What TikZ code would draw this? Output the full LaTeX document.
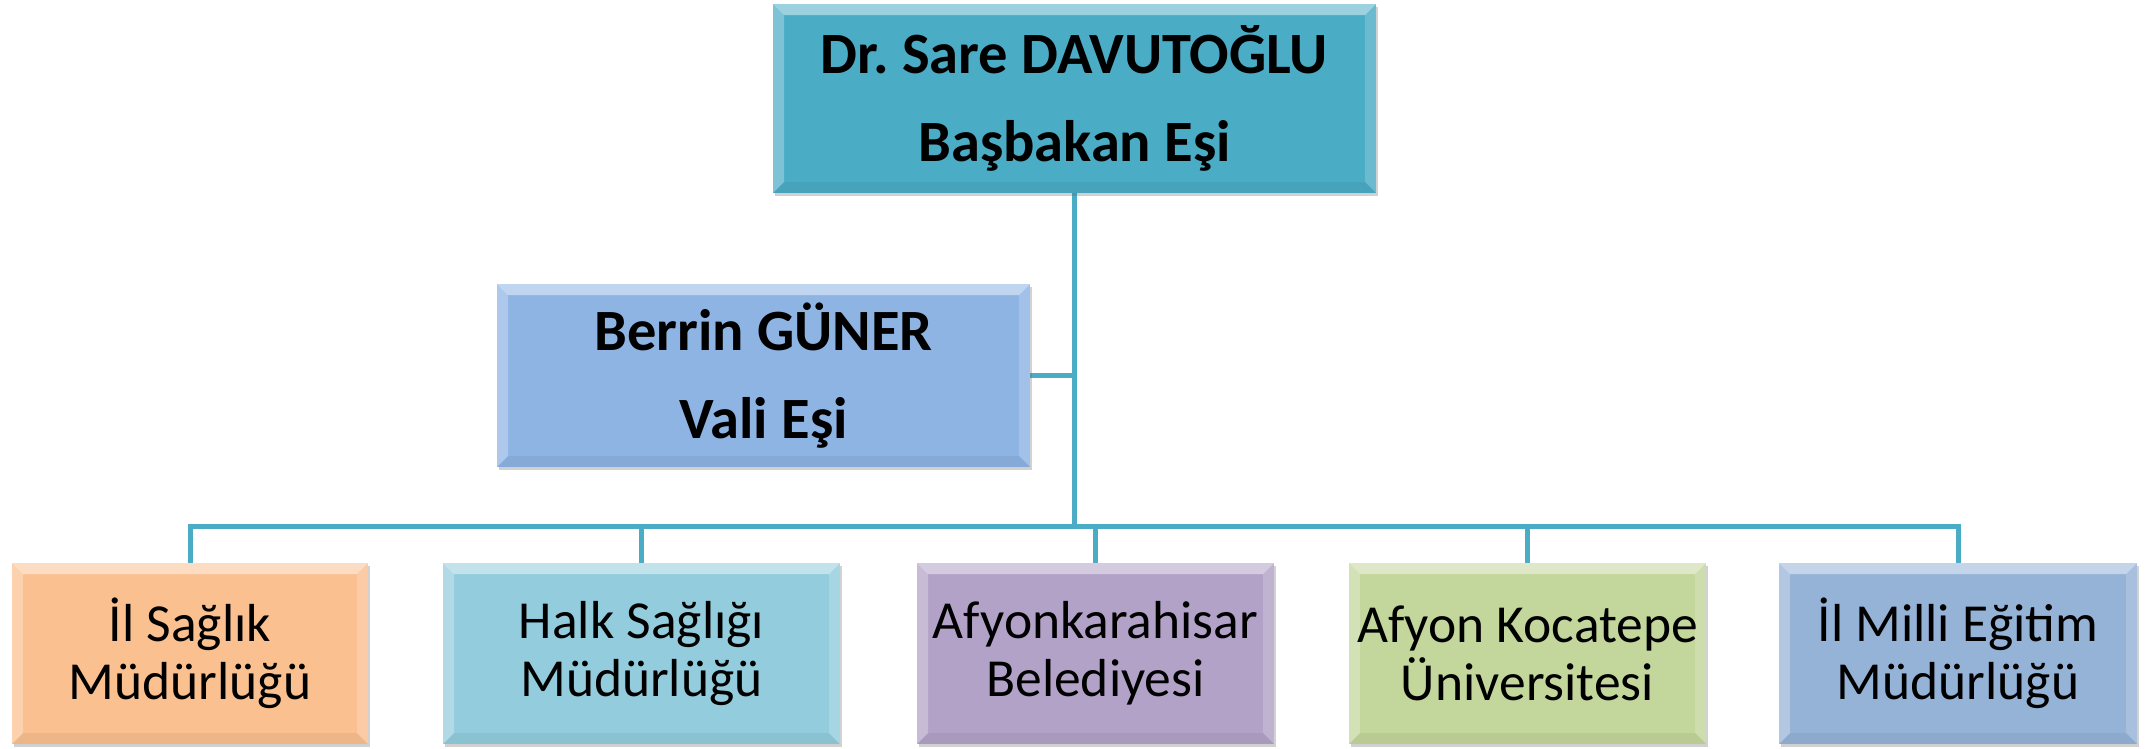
\documentclass[tikz,border=0pt]{standalone}
\usepackage{fontspec}
\setmainfont{Carlito}
\frenchspacing
\usetikzlibrary{shadows,backgrounds}
\definecolor{linec}{HTML}{4BACC6}
\definecolor{ctop}{HTML}{4BACC6}
\definecolor{cber}{HTML}{8EB4E3}
\definecolor{cone}{HTML}{FAC090}
\definecolor{ctwo}{HTML}{93CDDD}
\definecolor{cthree}{HTML}{B3A2C7}
\definecolor{cfour}{HTML}{C3D69B}
\definecolor{cfive}{HTML}{95B3D7}
\tikzset{
  bevelbox/.style={draw=none, fill=#1, inner sep=0pt, align=center,
    drop shadow={shadow xshift=2pt, shadow yshift=-3pt, opacity=0.3, fill=black!60},
    path picture={
      \fill[white, opacity=0.45] (path picture bounding box.north west) -- (path picture bounding box.north east)
        -- ([shift={(-11pt,-11pt)}]path picture bounding box.north east) -- ([shift={(11pt,-11pt)}]path picture bounding box.north west) -- cycle;
      \fill[white, opacity=0.28] (path picture bounding box.north west) -- ([shift={(11pt,-11pt)}]path picture bounding box.north west)
        -- ([shift={(11pt,11pt)}]path picture bounding box.south west) -- (path picture bounding box.south west) -- cycle;
      \fill[white, opacity=0.18] (path picture bounding box.north east) -- ([shift={(-11pt,-11pt)}]path picture bounding box.north east)
        -- ([shift={(-11pt,11pt)}]path picture bounding box.south east) -- (path picture bounding box.south east) -- cycle;
      \fill[black, opacity=0.05] (path picture bounding box.south west) -- ([shift={(11pt,11pt)}]path picture bounding box.south west)
        -- ([shift={(-11pt,11pt)}]path picture bounding box.south east) -- (path picture bounding box.south east) -- cycle;
    }},
  bigtext/.style={font=\fontsize{58.5}{88}\selectfont\bfseries},
  smalltext/.style={font=\fontsize{53.5}{58}\selectfont},
  conn/.style={draw=linec, line width=5pt}
}
\begin{document}
\begin{tikzpicture}[x=1pt,y=-1pt]
\useasboundingbox (0,0) rectangle (2152,748);
\node[bevelbox=ctop, bigtext, minimum width=603pt, minimum height=189pt] (top) at (1074.5,98.5) {Dr. Sare DAVUTOĞLU\\Başbakan Eşi};
\node[bevelbox=cber, bigtext, minimum width=533pt, minimum height=183pt] (ber) at (763.5,375.5) {Berrin GÜNER\\Vali Eşi};
\node[bevelbox=cone, smalltext, minimum width=356pt, minimum height=181pt] (b1) at (190,653.5) {İl Sağlık\\Müdürlüğü};
\node[bevelbox=ctwo, smalltext, minimum width=397pt, minimum height=181pt] (b2) at (641.5,653.5) {Halk Sağlığı\\Müdürlüğü};
\node[bevelbox=cthree, smalltext, minimum width=357pt, minimum height=181pt] (b3) at (1095.5,653.5) {Afyonkarahisar\\Belediyesi};
\node[bevelbox=cfour, smalltext, minimum width=357pt, minimum height=181pt] (b4) at (1527.5,653.5) {Afyon Kocatepe\\Üniversitesi};
\node[bevelbox=cfive, smalltext, minimum width=358pt, minimum height=181pt] (b5) at (1958,653.5) {İl Milli Eğitim\\Müdürlüğü};
\coordinate (bus) at (1074.5,526);
\begin{scope}[on background layer]
\draw[conn] (top.south) -- (bus);
\draw[conn] (ber.east) -- (ber.east -| top.south);
\draw[conn] (bus) -| (b1.north);
\draw[conn] (bus) -| (b2.north);
\draw[conn] (bus) -| (b3.north);
\draw[conn] (bus) -| (b4.north);
\draw[conn] (bus) -| (b5.north);
\end{scope}
\end{tikzpicture}
\end{document}
